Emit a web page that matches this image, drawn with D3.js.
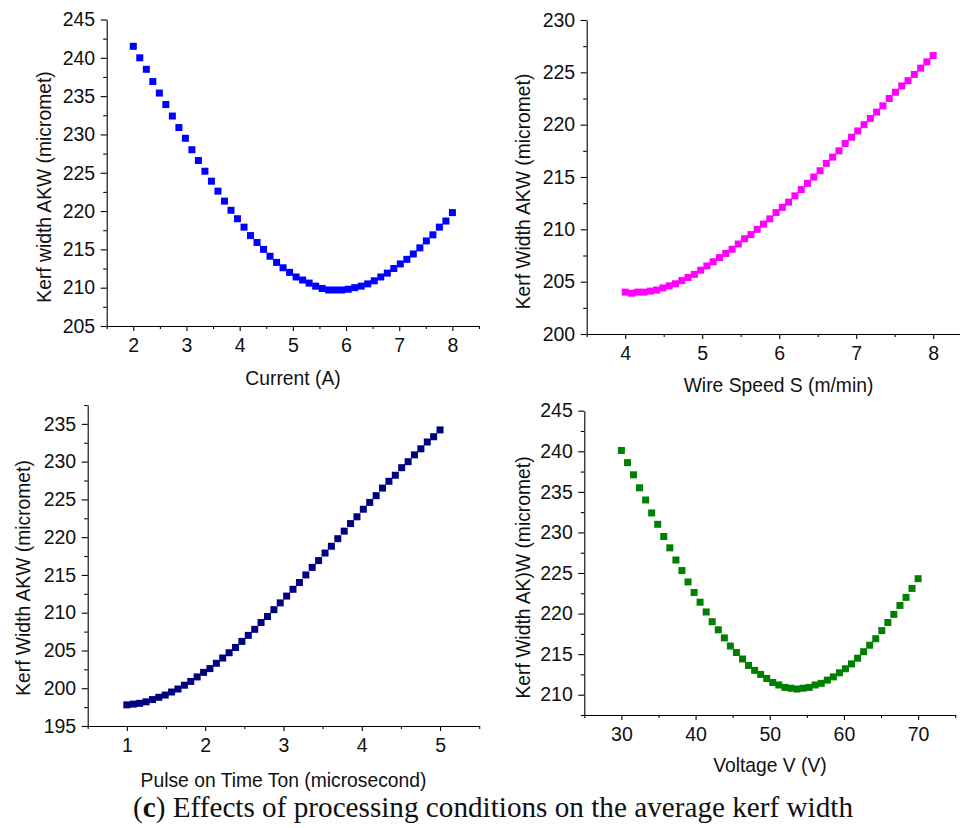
<!DOCTYPE html>
<html>
<head>
<meta charset="utf-8">
<script src="https://cdn.jsdelivr.net/npm/d3@7/dist/d3.min.js"></script>
<style>
  html, body { margin: 0; padding: 0; background: #fff; }
  svg { display: block; }
  .tick text { font-family: "Liberation Sans", Arial, sans-serif; font-size: 19.5px; fill: #111; }
  .axtitle { font-family: "Liberation Sans", Arial, sans-serif; font-size: 19.3px; fill: #111; }
</style>
</head>
<body>
<script>
// ---------- DATA ----------
const currentA = [2.000,2.122,2.245,2.367,2.490,2.612,2.735,2.857,2.980,3.102,3.224,3.347,3.469,3.592,3.714,3.837,3.959,4.082,4.204,4.327,4.449,4.571,4.694,4.816,4.939,5.061,5.184,5.306,5.429,5.551,5.673,5.796,5.918,6.041,6.163,6.286,6.408,6.531,6.653,6.776,6.898,7.020,7.143,7.265,7.388,7.510,7.633,7.755,7.878,8.000];
const kerfCurrent = [241.5,240.0,238.5,236.9,235.4,233.9,232.4,230.9,229.5,228.0,226.6,225.2,223.9,222.6,221.3,220.1,219.0,217.9,216.8,215.9,215.0,214.1,213.3,212.6,212.0,211.4,211.0,210.6,210.2,209.9,209.7,209.7,209.7,209.8,210.0,210.2,210.5,210.9,211.4,211.9,212.5,213.1,213.7,214.4,215.2,216.1,216.9,217.9,218.7,219.8];

const wireSpeed = [4.000,4.082,4.163,4.245,4.327,4.408,4.490,4.571,4.653,4.735,4.816,4.898,4.980,5.061,5.143,5.224,5.306,5.388,5.469,5.551,5.633,5.714,5.796,5.878,5.959,6.041,6.122,6.204,6.286,6.367,6.449,6.531,6.612,6.694,6.776,6.857,6.939,7.020,7.102,7.184,7.265,7.347,7.429,7.510,7.592,7.673,7.755,7.837,7.918,8.000];
const kerfWireSpeed = [204.0,203.9,204.0,204.0,204.1,204.2,204.4,204.6,204.8,205.1,205.4,205.7,206.1,206.5,206.9,207.3,207.7,208.1,208.6,209.1,209.5,210.0,210.5,211.0,211.6,212.1,212.6,213.2,213.8,214.4,215.0,215.6,216.3,216.9,217.5,218.2,218.8,219.4,220.0,220.6,221.2,221.8,222.5,223.1,223.7,224.2,224.8,225.4,226.0,226.6];

const pulseOnTime = [1.000,1.082,1.163,1.245,1.327,1.408,1.490,1.571,1.653,1.735,1.816,1.898,1.980,2.061,2.143,2.224,2.306,2.388,2.469,2.551,2.633,2.714,2.796,2.878,2.959,3.041,3.122,3.204,3.286,3.367,3.449,3.531,3.612,3.694,3.776,3.857,3.939,4.020,4.102,4.184,4.265,4.347,4.429,4.510,4.592,4.673,4.755,4.837,4.918,5.000];
const kerfPulse = [197.8,197.9,198.0,198.2,198.5,198.8,199.1,199.5,199.9,200.4,200.9,201.5,202.1,202.6,203.3,204.0,204.7,205.4,206.2,207.0,207.8,208.7,209.5,210.4,211.3,212.2,213.1,214.0,215.0,216.0,216.9,217.9,218.8,219.8,220.8,221.8,222.7,223.7,224.6,225.5,226.5,227.4,228.2,229.2,230.0,230.9,231.7,232.6,233.3,234.2];

const voltage = [30.00,30.82,31.63,32.45,33.27,34.08,34.90,35.71,36.53,37.35,38.16,38.98,39.80,40.61,41.43,42.24,43.06,43.88,44.69,45.51,46.33,47.14,47.96,48.78,49.59,50.41,51.22,52.04,52.86,53.67,54.49,55.31,56.12,56.94,57.76,58.57,59.39,60.20,61.02,61.84,62.65,63.47,64.29,65.10,65.92,66.73,67.55,68.37,69.18,70.00];
const kerfVoltage = [240.1,238.6,237.1,235.5,234.0,232.4,231.0,229.5,228.1,226.6,225.3,223.9,222.6,221.4,220.2,219.0,218.0,217.0,216.0,215.2,214.4,213.6,213.0,212.5,212.0,211.5,211.2,210.9,210.8,210.7,210.8,210.9,211.2,211.4,211.8,212.2,212.7,213.2,213.8,214.5,215.3,216.1,216.9,217.9,218.9,219.9,221.0,222.0,223.1,224.3];

// tick labels
const xTicksCurrent = [2,3,4,5,6,7,8];
const xMinorCurrent = [1.5,2.5,3.5,4.5,5.5,6.5,7.5,8.5];
const yTicksCurrent = [205,210,215,220,225,230,235,240,245];
const yMinorCurrent = [207.5,212.5,217.5,222.5,227.5,232.5,237.5,242.5];

const xTicksWire = [4,5,6,7,8];
const xMinorWire = [3.5,4.5,5.5,6.5,7.5,8.5];
const yTicksWire = [200,205,210,215,220,225,230];
const yMinorWire = [202.5,207.5,212.5,217.5,222.5,227.5];

const xTicksPulse = [1,2,3,4,5];
const xMinorPulse = [0.5,1.5,2.5,3.5,4.5,5.5];
const yTicksPulse = [195,200,205,210,215,220,225,230,235];
const yMinorPulse = [197.5,202.5,207.5,212.5,217.5,222.5,227.5,232.5,237.5];

const xTicksVolt = [30,40,50,60,70];
const xMinorVolt = [25,35,45,55,65,75];
const yTicksVolt = [210,215,220,225,230,235,240,245];
const yMinorVolt = [207.5,212.5,217.5,222.5,227.5,232.5,237.5,242.5];

const xTitles = ["Current (A)", "Wire Speed S (m/min)", "Pulse on Time Ton (microsecond)", "Voltage V (V)"];
const yTitles = ["Kerf width AKW (micromet)", "Kerf Width AKW (micromet)", "Kerf Width AKW (micromet)", "Kerf Width AK)W (micromet)"];
const captionParts = [["(", false], ["c", true], [") Effects of processing conditions on the average kerf width", false]];

// ---------- LAYOUT ----------
const panels = [
  { xs: currentA, ys: kerfCurrent, color: "#0000ff",
    xDom: [1.5, 8.5], yDom: [205, 245], xR: [106.7, 479], yR: [326, 19.5],
    xT: xTicksCurrent, xM: xMinorCurrent, yT: yTicksCurrent, yM: yMinorCurrent,
    xTitle: xTitles[0], yTitle: yTitles[0], xtPos: [293, 385], ytPos: [44, 187] },
  { xs: wireSpeed, ys: kerfWireSpeed, color: "#ff00ff",
    xDom: [3.5, 8.5], yDom: [200, 230], xR: [586.7, 971.7], yR: [334, 20],
    xT: xTicksWire, xM: xMinorWire, yT: yTicksWire, yM: yMinorWire,
    xTitle: xTitles[1], yTitle: yTitles[1], xtPos: [778.5, 392], ytPos: [523.5, 191.5] },
  { xs: pulseOnTime, ys: kerfPulse, color: "#000080",
    xDom: [0.5, 5.5], yDom: [195, 237.5], xR: [87.7, 479.2], yR: [726, 405],
    xT: xTicksPulse, xM: xMinorPulse, yT: yTicksPulse, yM: yMinorPulse,
    xTitle: xTitles[2], yTitle: yTitles[2], xtPos: [283.5, 787], ytPos: [23, 578] },
  { xs: voltage, ys: kerfVoltage, color: "#008000",
    xDom: [25, 75], yDom: [207.5, 245], xR: [584.3, 955.2], yR: [715, 410.7],
    xT: xTicksVolt, xM: xMinorVolt, yT: yTicksVolt, yM: yMinorVolt,
    xTitle: xTitles[3], yTitle: yTitles[3], xtPos: [770, 772], ytPos: [523.5, 577.5] }
];

const svg = d3.select("body").append("svg").attr("width", 960).attr("height", 828);

const MS = 7; // marker size

panels.forEach(p => {
  const x = d3.scaleLinear().domain(p.xDom).range(p.xR);
  const y = d3.scaleLinear().domain(p.yDom).range(p.yR);
  const g = svg.append("g");

  g.append("g").attr("transform", `translate(0,${p.yR[0]})`)
    .call(d3.axisBottom(x).tickValues(p.xM).tickSize(3).tickSizeOuter(0).tickFormat(""))
    .call(s => s.select(".domain").remove());
  g.append("g").attr("transform", `translate(0,${p.yR[0]})`)
    .call(d3.axisBottom(x).tickValues(p.xT).tickSize(5).tickSizeOuter(0).tickPadding(7.5).tickFormat(d3.format("d")));
  g.append("g").attr("transform", `translate(${p.xR[0]},0)`)
    .call(d3.axisLeft(y).tickValues(p.yM).tickSize(3.5).tickSizeOuter(0).tickFormat(""))
    .call(s => s.select(".domain").remove());
  g.append("g").attr("transform", `translate(${p.xR[0]},0)`)
    .call(d3.axisLeft(y).tickValues(p.yT).tickSize(6).tickSizeOuter(0).tickPadding(5.5).tickFormat(d3.format("d")));

  g.selectAll(".domain, .tick line").attr("stroke", "#000").attr("stroke-width", 1.1);
  g.selectAll(".tick text").attr("font-family", null).attr("font-size", null);

  g.append("g").selectAll("rect")
    .data(p.xs.map((v, i) => [v, p.ys[i]]))
    .join("rect")
    .attr("x", d => x(d[0]) - MS / 2)
    .attr("y", d => y(d[1]) - MS / 2)
    .attr("width", MS).attr("height", MS)
    .attr("fill", p.color);

  g.append("text").attr("class", "axtitle")
    .attr("x", p.xtPos[0]).attr("y", p.xtPos[1])
    .attr("text-anchor", "middle").text(p.xTitle);
  g.append("text").attr("class", "axtitle")
    .attr("transform", `translate(${p.ytPos[0]},${p.ytPos[1]}) rotate(-90)`)
    .attr("text-anchor", "middle").attr("dy", "0.35em").text(p.yTitle);
});

const cap = svg.append("text")
  .attr("x", 493).attr("y", 817)
  .attr("text-anchor", "middle")
  .attr("font-family", "'Liberation Serif', 'Times New Roman', serif")
  .attr("font-size", 29.2).attr("fill", "#111");
captionParts.forEach(([t, b]) => {
  cap.append("tspan").attr("font-weight", b ? "bold" : "normal").text(t);
});
</script>
</body>
</html>
